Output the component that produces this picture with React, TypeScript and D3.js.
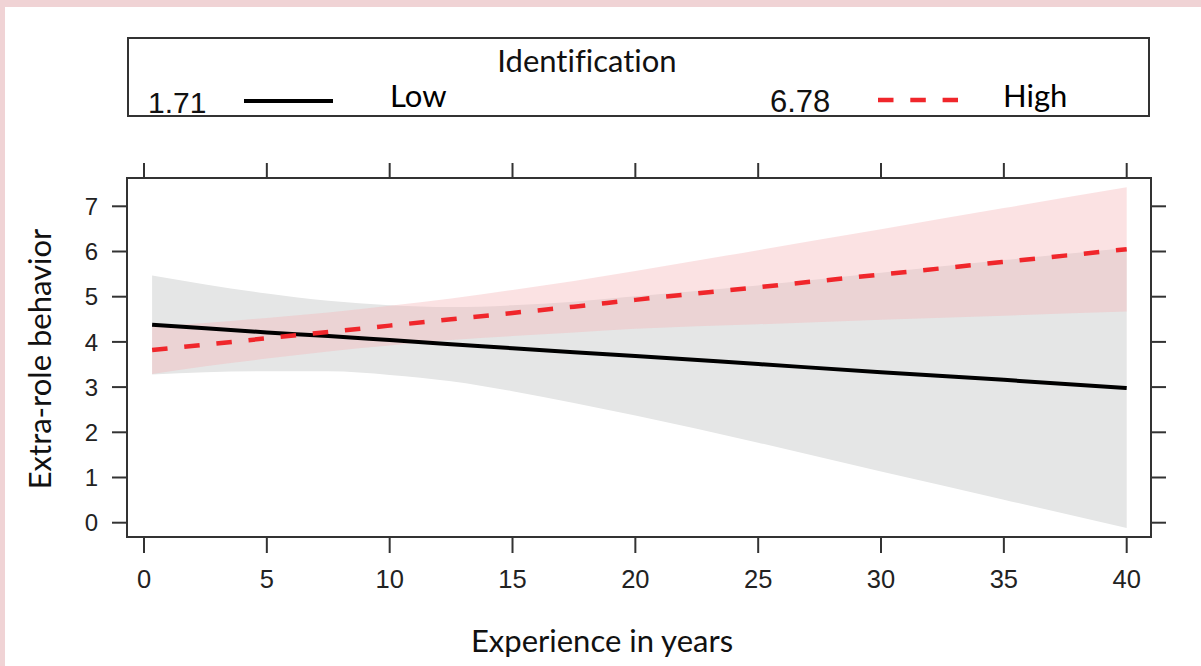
import React from "react";
import * as d3 from "d3";

// Data
const xs = [0.33, 2.5, 5, 7.5, 10, 12.5, 15, 17.5, 20, 25, 30, 35, 40];
const lowFit = [4.38, 4.30, 4.21, 4.13, 4.04, 3.95, 3.86, 3.77, 3.69, 3.51, 3.33, 3.16, 2.98];
const lowUpper = [5.47, 5.27, 5.07, 4.91, 4.81, 4.77, 4.81, 4.89, 5.01, 5.25, 5.53, 5.81, 6.08];
const lowLower = [3.28, 3.33, 3.35, 3.35, 3.27, 3.13, 2.91, 2.65, 2.37, 1.77, 1.13, 0.51, -0.12];
const highFit = [3.82, 3.94, 4.08, 4.22, 4.36, 4.50, 4.64, 4.78, 4.93, 5.21, 5.49, 5.77, 6.05];
const highUpper = [4.35, 4.42, 4.53, 4.65, 4.80, 4.96, 5.15, 5.35, 5.57, 6.03, 6.49, 6.96, 7.42];
const highLower = [3.29, 3.46, 3.63, 3.79, 3.92, 4.04, 4.13, 4.21, 4.29, 4.39, 4.49, 4.58, 4.67];

const xTicks = [0, 5, 10, 15, 20, 25, 30, 35, 40];
const yTicks = [0, 1, 2, 3, 4, 5, 6, 7];
const legendTitle = "Identification";
const legendValues = ["1.71", "6.78"];
const legendNames = ["Low", "High"];
const xLabel = "Experience in years";
const yLabel = "Extra-role behavior";

const W = 1201;
const H = 666;
const panel = { x0: 127, x1: 1151, y0: 178, y1: 537 };

export default function App() {
  const x = d3.scaleLinear().domain([0, 40]).range([144, 1126.7]);
  const y = d3.scaleLinear().domain([0, 7]).range([522.7, 206.3]);

  const band = (lo: number[], hi: number[]) =>
    d3
      .area<number>()
      .x((_, i) => x(xs[i]))
      .y0((_, i) => y(lo[i]))
      .y1((_, i) => y(hi[i]))
      .curve(d3.curveMonotoneX)(xs) || "";
  const line = (v: number[]) =>
    d3
      .line<number>()
      .x((_, i) => x(xs[i]))
      .y((_, i) => y(v[i]))
      .curve(d3.curveMonotoneX)(xs) || "";

  const sans = "'Liberation Sans', Arial, Helvetica, sans-serif";
  const hum = "Lato, 'Open Sans', sans-serif";
  const humStyle = { fontVariantLigatures: "none" as const };
  const axisColor = "#333";

  return (
    <svg
      width={W}
      height={H}
      style={{ position: "absolute", left: 0, top: 0, display: "block" }}
    >
      <rect x={0} y={0} width={W} height={H} fill="#ffffff" />
      {/* pink frame */}
      <rect x={0} y={0} width={W} height={7} fill="#f0d3d5" />
      <rect x={0} y={0} width={5} height={H} fill="#f0d3d5" />

      {/* legend */}
      <rect x={128} y={38} width={1021} height={78} fill="none" stroke={axisColor} strokeWidth={2} />
      <text x={587} y={72} textAnchor="middle" fontFamily={hum} fontSize={31} fill="#111" style={humStyle}>
        {legendTitle}
      </text>
      <text x={148} y={113} fontFamily={sans} fontSize={30} fill="#111">
        {legendValues[0]}
      </text>
      <line x1={244} x2={333} y1={101} y2={101} stroke="#000" strokeWidth={4} />
      <text x={390} y={107} fontFamily={hum} fontSize={31} fill="#000" style={humStyle}>
        {legendNames[0]}
      </text>
      <text x={770} y={112} fontFamily={sans} fontSize={31} fill="#111">
        {legendValues[1]}
      </text>
      <line
        x1={878}
        x2={958}
        y1={100}
        y2={100}
        stroke="#f0262b"
        strokeWidth={4.5}
        strokeDasharray="15.5 16.8"
      />
      <text x={1003} y={107} fontFamily={hum} fontSize={31} fill="#000" style={humStyle}>
        {legendNames[1]}
      </text>

      {/* bands */}
      <path d={band(lowLower, lowUpper)} fill="#e5e6e6" />
      <path d={band(highLower, highUpper)} fill="rgb(244,180,183)" fillOpacity={0.39} />

      {/* fitted lines */}
      <path d={line(lowFit)} fill="none" stroke="#000" strokeWidth={4} />
      <path
        d={line(highFit)}
        fill="none"
        stroke="#f0262b"
        strokeWidth={4.5}
        strokeDasharray="15.5 16.8"
      />

      {/* panel frame */}
      <rect
        x={panel.x0}
        y={panel.y0}
        width={panel.x1 - panel.x0}
        height={panel.y1 - panel.y0}
        fill="none"
        stroke={axisColor}
        strokeWidth={2}
      />

      {/* x ticks: bottom and top */}
      {xTicks.map((t) => (
        <g key={"x" + t}>
          <line x1={x(t)} x2={x(t)} y1={panel.y1} y2={panel.y1 + 16} stroke={axisColor} strokeWidth={2} />
          <line x1={x(t)} x2={x(t)} y1={panel.y0} y2={panel.y0 - 15} stroke={axisColor} strokeWidth={2} />
          <text x={x(t)} y={588} textAnchor="middle" fontFamily={sans} fontSize={25.5} fill="#222">
            {t}
          </text>
        </g>
      ))}

      {/* y ticks: left and right */}
      {yTicks.map((t) => (
        <g key={"y" + t}>
          <line x1={panel.x0} x2={panel.x0 - 15} y1={y(t)} y2={y(t)} stroke={axisColor} strokeWidth={2} />
          <line x1={panel.x1} x2={panel.x1 + 15} y1={y(t)} y2={y(t)} stroke={axisColor} strokeWidth={2} />
          <text
            x={98}
            y={y(t)}
            dy="0.36em"
            textAnchor="end"
            fontFamily={sans}
            fontSize={24}
            fill="#222"
          >
            {t}
          </text>
        </g>
      ))}

      {/* axis titles */}
      <text x={602} y={652} textAnchor="middle" fontFamily={hum} fontSize={31} fill="#111" style={humStyle}>
        {xLabel}
      </text>
      <text
        transform={`translate(51,359) rotate(-90)`}
        textAnchor="middle"
        fontFamily={hum}
        fontSize={31}
        fill="#111"
        style={humStyle}
      >
        {yLabel}
      </text>
    </svg>
  );
}
